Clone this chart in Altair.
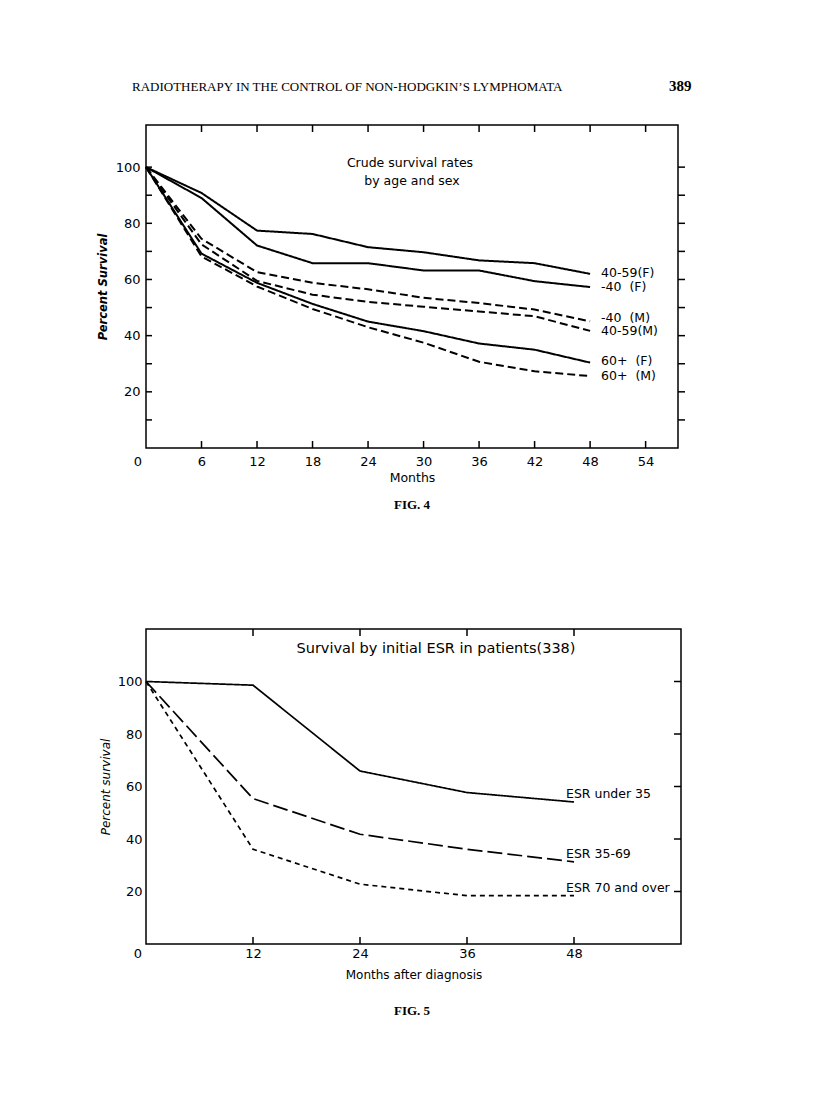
import altair as alt
import pandas as pd

FONT = "DejaVu Sans"
SERIF = "Liberation Serif"

# ---------------- Fig. 4 data ----------------
months4 = [0, 6, 12, 18, 24, 30, 36, 42, 48]
s_40_59_f = [100, 90.8, 77.4, 76.2, 71.5, 69.7, 66.8, 65.8, 62.0]
s_u40_f = [100, 89.0, 72.1, 65.8, 65.8, 63.2, 63.2, 59.4, 57.3]
s_u40_m = [100, 74.5, 62.6, 58.8, 56.5, 53.5, 51.6, 49.3, 45.1]
s_40_59_m = [100, 72.5, 59.5, 54.6, 52.0, 50.3, 48.6, 46.9, 41.7]
s_60_f = [100, 69.2, 58.8, 51.3, 45.0, 41.6, 37.2, 35.0, 30.4]
s_60_m = [100, 68.2, 57.5, 49.5, 43.0, 37.5, 30.7, 27.3, 25.6]
names4 = ["40-59(F)", "-40\u00a0\u00a0(F)", "-40\u00a0\u00a0(M)", "40-59(M)",
          "60+\u00a0\u00a0(F)", "60+\u00a0\u00a0(M)"]
label_y4 = [62.3, 57.2, 46.2, 41.6, 31.0, 25.5]
styles4 = ["solid", "solid", "dashed", "dashed", "solid", "dashed"]
series4 = [s_40_59_f, s_u40_f, s_u40_m, s_40_59_m, s_60_f, s_60_m]
xticks4 = [6, 12, 18, 24, 30, 36, 42, 48, 54]
ylabels4 = [20, 40, 60, 80, 100]
yticks4 = [10, 20, 30, 40, 50, 60, 70, 80, 90, 100]

# ---------------- Fig. 5 data ----------------
months5 = [0, 12, 24, 36, 48]
esr_u35 = [100, 98.6, 65.9, 57.7, 54.1]
esr_35_69 = [100, 55.4, 41.8, 36.1, 31.3]
esr_70 = [100, 36.1, 22.8, 18.4, 18.4]
names5 = ["ESR under 35", "ESR 35-69", "ESR 70 and over"]
styles5 = ["solid", "long", "short"]
series5 = [esr_u35, esr_35_69, esr_70]
xticks5 = [12, 24, 36, 48]
ylabels5 = [20, 40, 60, 80, 100]

W1, H1 = 532, 323
W2, H2 = 535, 315


def long_df(months, series, names, styles, stylefield):
    rows = []
    for vals, n, s in zip(series, names, styles):
        for m, v in zip(months, vals):
            rows.append({"month": m, "pct": v, "series": n, stylefield: s})
    return pd.DataFrame(rows)


df4 = long_df(months4, series4, names4, styles4, "style4")
df5 = long_df(months5, series5, names5, styles5, "style5")
end4 = pd.DataFrame({"month": [48] * len(names4), "pct": label_y4, "series": names4})
end5 = df5[df5["month"] == 48]
one = pd.DataFrame({"k": [0]})


def txt(text, x, y, size=13, font=FONT, align="center", weight="normal", style="normal", baseline="middle"):
    return alt.Chart(one).mark_text(
        text=text, font=font, fontSize=size, align=align, baseline=baseline,
        fontWeight=weight, fontStyle=style, color="black"
    ).encode(x=alt.value(x), y=alt.value(y))


def vticks(values, x0, x1):
    return alt.Chart(pd.DataFrame({"pct": values})).mark_rule(color="black", strokeWidth=1.5).encode(
        y="pct:Q", x=alt.value(x0), x2=alt.value(x1))


def hticks(values, y0, y1):
    return alt.Chart(pd.DataFrame({"month": values})).mark_rule(color="black", strokeWidth=1.5).encode(
        x="month:Q", y=alt.value(y0), y2=alt.value(y1))


# ---------------- Chart Fig. 4 ----------------
x4 = alt.X("month:Q", scale=alt.Scale(domain=[0, 57.5], nice=False, zero=False),
           axis=alt.Axis(values=xticks4, title="Months", labelPadding=7, titlePadding=3,
                         labelFontSize=13, titleFontSize=12.5, titleFontWeight="normal"))
y4 = alt.Y("pct:Q", scale=alt.Scale(domain=[0, 115], nice=False, zero=False),
           axis=alt.Axis(values=ylabels4, title="Percent Survival", labelPadding=6, titlePadding=7,
                         labelFontSize=13, titleFontSize=11.5, titleFontWeight="bold",
                         titleFontStyle="italic"))

lines4 = alt.Chart(df4).mark_line(color="black", strokeWidth=2).encode(
    x=x4, y=y4, detail="series:N",
    strokeDash=alt.StrokeDash("style4:N", scale=alt.Scale(domain=["solid", "dashed"], range=[[1, 0], [8, 4]]),
                              legend=None))
labels4 = alt.Chart(end4).mark_text(align="left", dx=11, font=FONT, fontSize=12.5, color="black").encode(
    x="month:Q", y="pct:Q", text="series:N")

chart4 = alt.layer(
    lines4, labels4,
    vticks(yticks4, 0, 6), vticks(yticks4, W1, W1 + 7),
    hticks(xticks4, 0, 7), hticks(xticks4, H1 - 7, H1),
    txt("Crude survival rates", 264, 38, size=12.5),
    txt("by age and sex", 266, 56, size=12.5),
    txt("0", -8, H1 + 14),
    txt("RADIOTHERAPY IN THE CONTROL OF NON-HODGKIN\u2019S LYMPHOMATA", -14, -38, size=13,
        font=SERIF, align="left"),
    txt("389", 523, -39, size=15, font=SERIF, align="left", weight="bold"),
    txt("FIG. 4", 266, H1 + 57, size=13, font=SERIF, weight="bold"),
).properties(width=W1, height=H1)

# ---------------- Chart Fig. 5 ----------------
x5 = alt.X("month:Q", scale=alt.Scale(domain=[0, 60], nice=False, zero=False),
           axis=alt.Axis(values=xticks5, title="Months after diagnosis", labelPadding=3, titlePadding=9,
                         labelFontSize=13, titleFontSize=12, titleFontWeight="normal"))
y5 = alt.Y("pct:Q", scale=alt.Scale(domain=[0, 120], nice=False, zero=False),
           axis=alt.Axis(values=ylabels5, title="Percent survival", labelPadding=4, titlePadding=5,
                         labelFontSize=13, titleFontSize=12, titleFontWeight="normal",
                         titleFontStyle="italic"))

lines5 = alt.Chart(df5).mark_line(color="black", strokeWidth=1.7).encode(
    x=x5, y=y5, detail="series:N",
    strokeDash=alt.StrokeDash("style5:N", scale=alt.Scale(domain=["solid", "long", "short"],
                                                          range=[[1, 0], [15, 5], [5, 4]]), legend=None))
labels5 = alt.Chart(end5).mark_text(align="left", dx=-8, dy=-8, font=FONT, fontSize=12.5, color="black").encode(
    x="month:Q", y="pct:Q", text="series:N")

chart5 = alt.layer(
    lines5, labels5,
    vticks(ylabels5, W2 - 7, W2),
    hticks(xticks5, 0, 7), hticks(xticks5, H2 - 7, H2),
    txt("Survival by initial ESR in patients(338)", 290, 20, size=14.5),
    txt("0", -8, H2 + 10),
    txt("FIG. 5", 266, H2 + 67, size=13, font=SERIF, weight="bold"),
).properties(width=W2, height=H2)

chart = alt.vconcat(chart4, chart5, spacing=114).properties(
    padding={"left": 88, "top": 70, "right": 5, "bottom": 5},
    background="white",
).resolve_scale(strokeDash="independent").configure_view(stroke="black", strokeWidth=1.5).configure_axis(
    labelColor="black", titleColor="black", labelFont=FONT, titleFont=FONT,
    ticks=False, domain=False, grid=False
)

chart.save("out.html", embed_options={"renderer": "svg", "actions": False})
